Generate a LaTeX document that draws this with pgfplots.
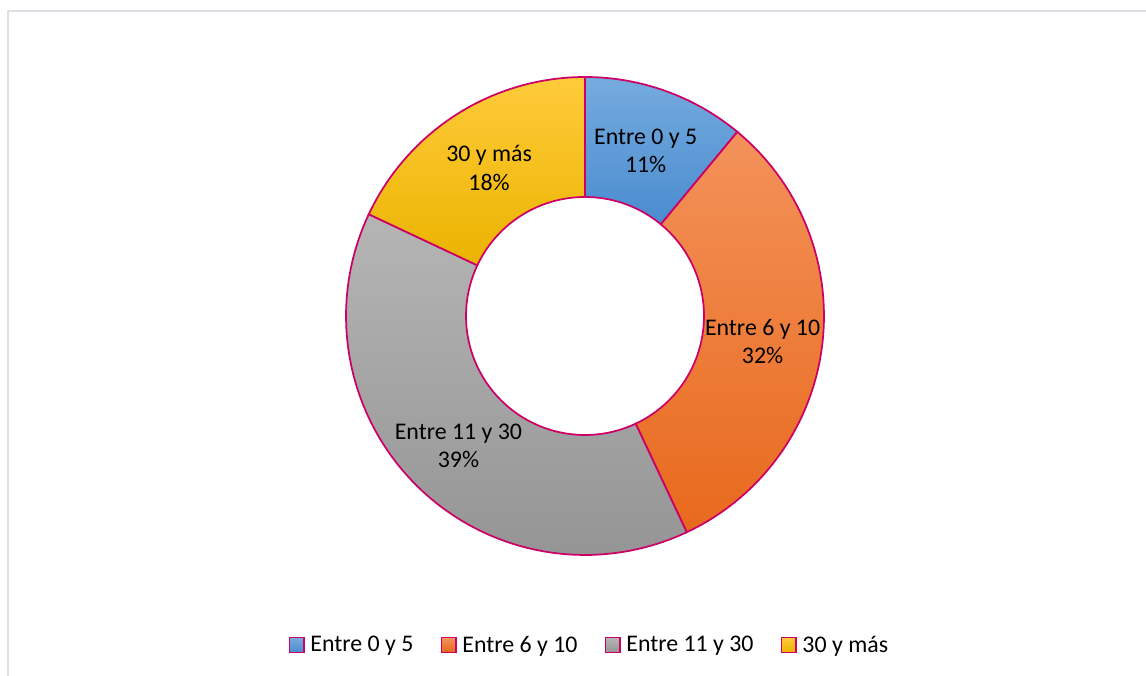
\documentclass[border=0pt]{standalone}
\usepackage{pgfplots}
\pgfplotsset{compat=1.18}
\usepackage{pgfplotstable}
\usepackage{fontspec}
\setmainfont{Carlito}

\definecolor{edge}{HTML}{CC0066}
\definecolor{bluetop}{HTML}{75ABDF}
\definecolor{bluebot}{HTML}{4A8CCF}
\definecolor{orgtop}{HTML}{F3925A}
\definecolor{orgbot}{HTML}{E8691C}
\definecolor{graytop}{HTML}{B5B5B5}
\definecolor{graybot}{HTML}{959595}
\definecolor{goldtop}{HTML}{FFCB3A}
\definecolor{goldbot}{HTML}{EBB300}
\definecolor{framec}{HTML}{DDE1E6}

% share of each category (percent)
\pgfplotstableread[col sep=comma]{
name,value
Entre 0 y 5,11
Entre 6 y 10,32
Entre 11 y 30,39
30 y más,18
}\donut

\pgfplotstablegetelem{0}{value}\of\donut\edef\vA{\pgfplotsretval}
\pgfplotstablegetelem{1}{value}\of\donut\edef\vB{\pgfplotsretval}
\pgfplotstablegetelem{2}{value}\of\donut\edef\vC{\pgfplotsretval}
\pgfplotstablegetelem{3}{value}\of\donut\edef\vD{\pgfplotsretval}

\pgfmathsetmacro\aA{0}
\pgfmathsetmacro\bA{\aA+3.6*\vA}
\pgfmathsetmacro\bB{\bA+3.6*\vB}
\pgfmathsetmacro\bC{\bB+3.6*\vC}
\pgfmathsetmacro\bD{\bC+3.6*\vD}

% centre and radii (px)
\def\cx{585}\def\cy{359}\def\Ro{239}\def\Ri{119}\def\Rm{179}
\def\dy{-3}

\pgfmathsetmacro\lxA{\cx+\Rm*sin((\aA+\bA)/2)}\pgfmathsetmacro\lyA{\cy+\dy+\Rm*cos((\aA+\bA)/2)}
\pgfmathsetmacro\lxB{\cx+\Rm*sin((\bA+\bB)/2)}\pgfmathsetmacro\lyB{\cy+\dy+\Rm*cos((\bA+\bB)/2)}
\pgfmathsetmacro\lxC{\cx+\Rm*sin((\bB+\bC)/2)}\pgfmathsetmacro\lyC{\cy+\dy+\Rm*cos((\bB+\bC)/2)}
\pgfmathsetmacro\lxD{\cx+\Rm*sin((\bC+\bD)/2)}\pgfmathsetmacro\lyD{\cy+\dy+\Rm*cos((\bC+\bD)/2)}

\newcommand\ring[4]{%
  \addplot[draw=edge, line width=1.3pt, top color=#3, bottom color=#4,
    samples at={0,1,...,60,100,101,...,160}]
    ({\cx+ringrad(x)*sin(ringang(x,#1,#2))},{\cy+ringrad(x)*cos(ringang(x,#1,#2))}) -- cycle;
}

\begin{document}
\begin{tikzpicture}[x=0.75pt,y=0.75pt]
\useasboundingbox (0,0) rectangle (1146,675);
\fill[white] (0,0) rectangle (1146,675);
\begin{axis}[
  at={(0,0)}, anchor=origin,
  x=0.75pt, y=0.75pt,
  xmin=0, xmax=1146, ymin=0, ymax=675,
  hide axis, clip=false,
  font=\fontsize{17.9}{21.2}\selectfont,
  declare function={
    ringang(\s,\a,\b)=ifthenelse(\s<80,\a+(\b-\a)*\s/60,\b-(\b-\a)*(\s-100)/60);
    ringrad(\s)=ifthenelse(\s<80,\Ro,\Ri);
  },
  legend columns=4,
  legend style={at={(0.5144,0.0444)}, anchor=center, draw=none, fill=none,
    font=\fontsize{17.9}{21.2}\selectfont,
    nodes={inner sep=1.5pt},
    /tikz/every even column/.append style={column sep=19pt}},
  legend image code/.code={\draw[#1, line width=1pt] (0pt,-5.4pt) rectangle (10.8pt,5.4pt); \path (13.5pt,0pt);},
]
\draw[framec, line width=1.2pt] (axis cs:8,-5) -- (axis cs:8,664) -- (axis cs:1150,664);

\ring{\aA}{\bA}{bluetop}{bluebot}
\addlegendentry{Entre 0 y 5}
\ring{\bA}{\bB}{orgtop}{orgbot}
\addlegendentry{Entre 6 y 10}
\ring{\bB}{\bC}{graytop}{graybot}
\addlegendentry{Entre 11 y 30}
\ring{\bC}{\bD}{goldtop}{goldbot}
\addlegendentry{30 y más}

\node[align=center] at (axis cs:\lxA,\lyA) {Entre 0 y 5\\11\%};
\node[align=center] at (axis cs:\lxB,\lyB) {Entre 6 y 10\\32\%};
\node[align=center] at (axis cs:\lxC,\lyC) {Entre 11 y 30\\39\%};
\node[align=center] at (axis cs:\lxD,\lyD) {30 y más\\18\%};
\end{axis}
\end{tikzpicture}
\end{document}
